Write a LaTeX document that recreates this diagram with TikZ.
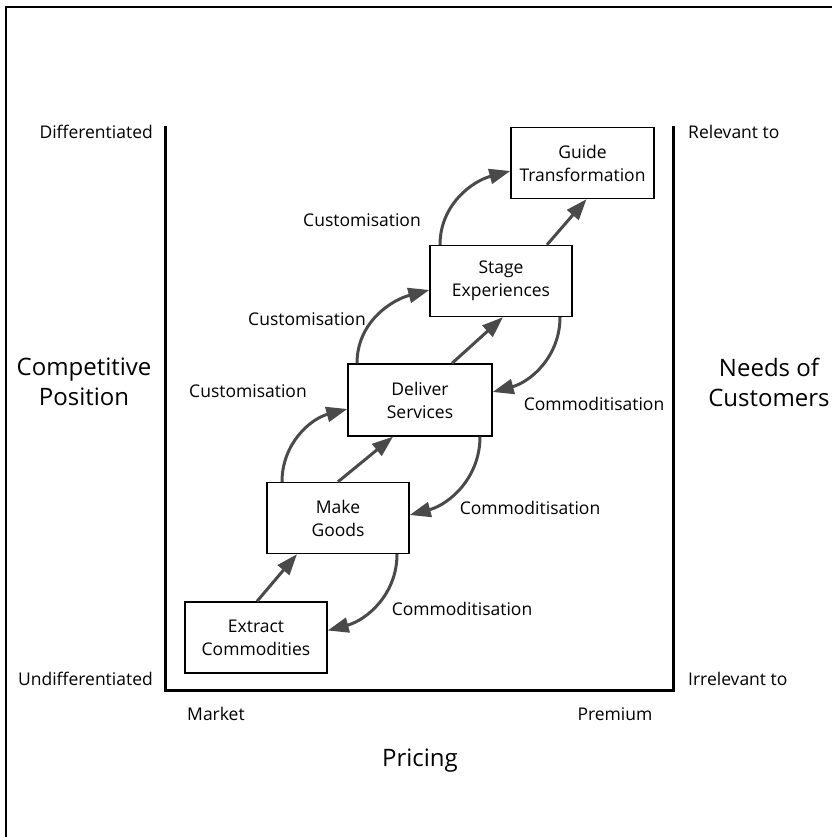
\documentclass[tikz,border=0pt]{standalone}
\usepackage{fontspec}
\setmainfont{Open Sans}
\usetikzlibrary{arrows.meta}
\definecolor{flowgray}{HTML}{4A4A4A}
\tikzset{
    % boxes for the economic stages
    stagebox/.style={
           rectangle,
           draw=black, line width=1.4pt,
           fill=white,
           minimum width=142pt,
           minimum height=71pt,
           inner sep=0pt,
           align=center,
           font=\fontsize{17.5}{23}\selectfont},
    % thick grey arrows
    flow/.style={
           -{Triangle[length=21pt,width=15pt]},
           draw=flowgray,
           line width=3pt},
    % labels
    lbl/.style={inner sep=0pt, font=\fontsize{17.5}{21}\selectfont},
    biglbl/.style={inner sep=0pt, align=center, font=\fontsize{24}{30}\selectfont},
    axisline/.style={line width=3pt, line join=miter}
}
\begin{document}
\begin{tikzpicture}[x=1pt,y=1pt]
  \useasboundingbox (0,0) rectangle (832,837);
  % outer frame
  \draw[line width=2pt] (6,0) -- (6,830) -- (832,830);
  % axes
  \coordinate (axtl) at (165,711);
  \coordinate (axbl) at (165,146);
  \coordinate (axbr) at (673,146);
  \coordinate (axtr) at (673,711);
  \draw[axisline] (axtl) -- (axbl) -- (axbr) -- (axtr);
  % stages
  \node[stagebox] (extract) at (256,199.5) {Extract\\Commodities};
  \node[stagebox] (goods) at (338,319) {Make\\Goods};
  \node[stagebox, minimum width=144pt, minimum height=72pt] (services) at (420,437) {Deliver\\Services};
  \node[stagebox] (experiences) at (501,556) {Stage\\Experiences};
  \node[stagebox, minimum width=143pt] (transform) at (582.5,674) {Guide\\Transformation};
  % progression
  \draw[flow] ([xshift=1pt]extract.north) -- ([xshift=-41pt]goods.south);
  \draw[flow] (goods.north) -- ([xshift=-27pt]services.south);
  \draw[flow] ([xshift=32pt]services.north) -- ([xshift=2pt]experiences.south);
  \draw[flow] ([xshift=46pt]experiences.north) -- ([xshift=4pt]transform.south);
  % customisation loops
  \draw[flow] ([xshift=-56pt]goods.north) to[out=90,in=195] ([yshift=-9pt]services.west);
  \draw[flow] ([xshift=-63pt]services.north) to[out=90,in=195] ([yshift=-9pt]experiences.west);
  \draw[flow] ([xshift=-61pt]experiences.north) to[out=90,in=195] ([yshift=-8pt]transform.west);
  % commoditisation loops
  \draw[flow] ([xshift=59pt]experiences.south) to[out=-90,in=15] ([yshift=8pt]services.east);
  \draw[flow] ([xshift=60pt]services.south) to[out=-90,in=15] ([yshift=3pt]goods.east);
  \draw[flow] ([xshift=59pt]goods.south) to[out=-90,in=15] ([yshift=7pt]extract.east);
  % loop labels
  \node[lbl, anchor=base] (cust1) at (362,610) {Customisation};
  \node[lbl, anchor=base] (cust2) at (307,511) {Customisation};
  \node[lbl, anchor=base] (cust3) at (248,439) {Customisation};
  \node[lbl, anchor=base] (comm1) at (594,426) {Commoditisation};
  \node[lbl, anchor=base] (comm2) at (530,322) {Commoditisation};
  \node[lbl, anchor=base] (comm3) at (462,221) {Commoditisation};
  % axis labels
  \node[lbl, anchor=base east] (diff) at (153,698) {Differentiated};
  \node[lbl, anchor=base east] (undiff) at (153,151) {Undifferentiated};
  \node[lbl, anchor=base west] (relev) at (688,698) {Relevant to};
  \node[lbl, anchor=base west] (irrelev) at (688,151) {Irrelevant to};
  \node[lbl, anchor=base west] (market) at (187,116) {Market};
  \node[lbl, anchor=base] (premium) at (615,116) {Premium};
  \node[biglbl, anchor=base] (pricing) at (420,70) {Pricing};
  \node[biglbl] (position) at (84,455) {Competitive\\Position};
  \node[biglbl] (needs) at (769,455) {Needs of\\Customers};
\end{tikzpicture}
\end{document}
